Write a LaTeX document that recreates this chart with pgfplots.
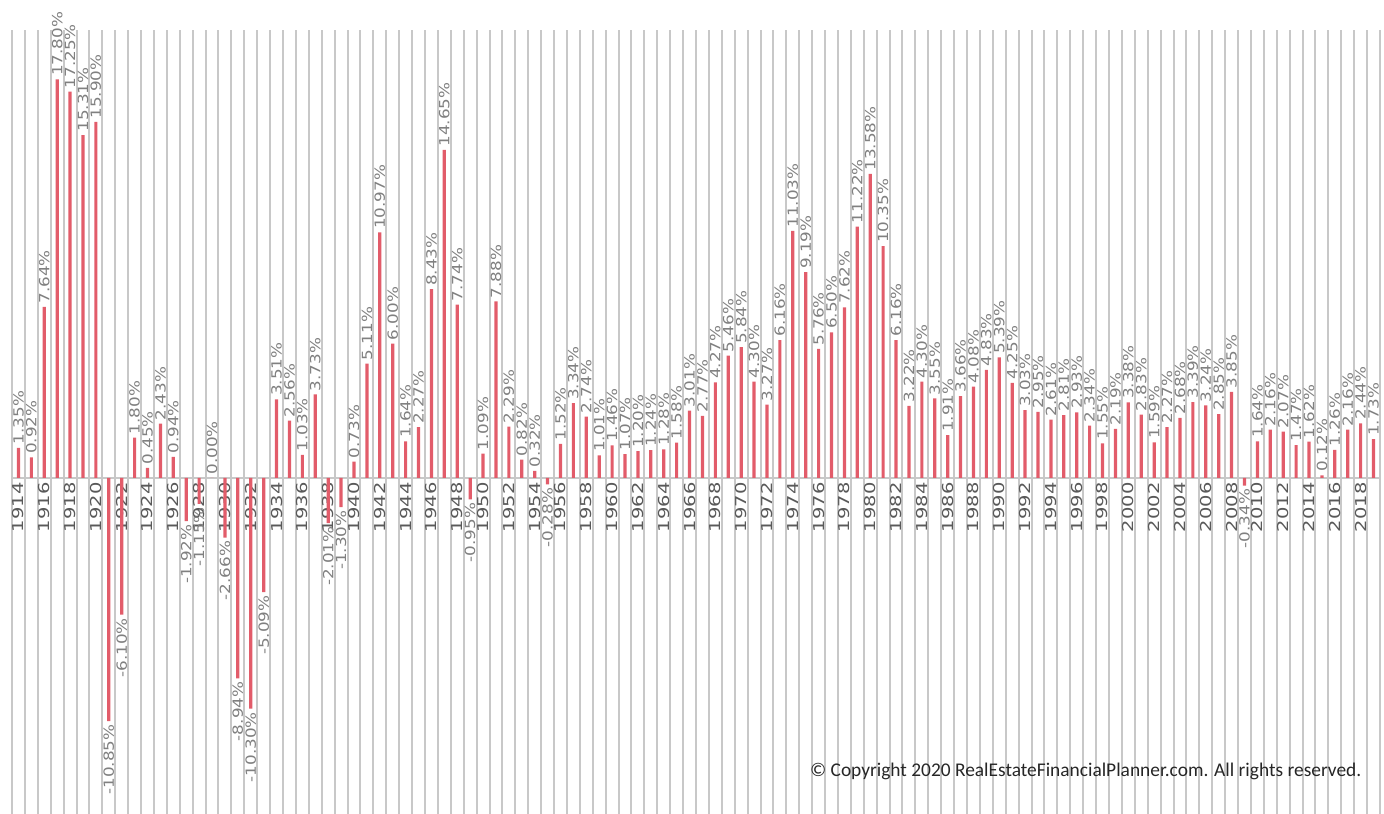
\documentclass[border=0pt]{standalone}
\usepackage{pgfplots}
\pgfplotsset{compat=1.18}
\usepackage{pgfplotstable}
\usepackage{fontspec}
\setmainfont{DejaVu Sans}
\newfontfamily\yearfont[FakeStretch=1.3]{DejaVu Sans}
\newfontfamily\valfont[FakeStretch=1.2]{DejaVu Sans}
\newfontfamily\copyfont{Carlito}
\definecolor{barred}{RGB}{226,92,106}
\definecolor{gridgray}{RGB}{200,200,200}
\definecolor{yeargray}{RGB}{89,89,89}
\definecolor{valgray}{RGB}{128,128,128}

% annual inflation, 1914-2019
\pgfplotstableread{
year val
1914 1.35
1915 0.92
1916 7.64
1917 17.80
1918 17.25
1919 15.31
1920 15.90
1921 -10.85
1922 -6.10
1923 1.80
1924 0.45
1925 2.43
1926 0.94
1927 -1.92
1928 -1.15
1929 0.00
1930 -2.66
1931 -8.94
1932 -10.30
1933 -5.09
1934 3.51
1935 2.56
1936 1.03
1937 3.73
1938 -2.01
1939 -1.30
1940 0.73
1941 5.11
1942 10.97
1943 6.00
1944 1.64
1945 2.27
1946 8.43
1947 14.65
1948 7.74
1949 -0.95
1950 1.09
1951 7.88
1952 2.29
1953 0.82
1954 0.32
1955 -0.28
1956 1.52
1957 3.34
1958 2.74
1959 1.01
1960 1.46
1961 1.07
1962 1.20
1963 1.24
1964 1.28
1965 1.58
1966 3.01
1967 2.77
1968 4.27
1969 5.46
1970 5.84
1971 4.30
1972 3.27
1973 6.16
1974 11.03
1975 9.19
1976 5.76
1977 6.50
1978 7.62
1979 11.22
1980 13.58
1981 10.35
1982 6.16
1983 3.22
1984 4.30
1985 3.55
1986 1.91
1987 3.66
1988 4.08
1989 4.83
1990 5.39
1991 4.25
1992 3.03
1993 2.95
1994 2.61
1995 2.81
1996 2.93
1997 2.34
1998 1.55
1999 2.19
2000 3.38
2001 2.83
2002 1.59
2003 2.27
2004 2.68
2005 3.39
2006 3.24
2007 2.85
2008 3.85
2009 -0.34
2010 1.64
2011 2.16
2012 2.07
2013 1.47
2014 1.62
2015 0.12
2016 1.26
2017 2.16
2018 2.44
2019 1.73
}\cpi

\begin{document}
\begin{tikzpicture}
\begin{axis}[
  name=ax,
  width=684pt, height=392pt, scale only axis,
  xmin=-0.5, xmax=105.5, ymin=-15, ymax=20,
  axis x line*=middle, axis y line=none,
  axis line style={gridgray, line width=1pt},
  xtick={0,2,...,104},
  xticklabels={1914,1916,1918,1920,1922,1924,1926,1928,1930,1932,1934,1936,1938,
    1940,1942,1944,1946,1948,1950,1952,1954,1956,1958,1960,1962,1964,1966,1968,
    1970,1972,1974,1976,1978,1980,1982,1984,1986,1988,1990,1992,1994,1996,1998,
    2000,2002,2004,2006,2008,2010,2012,2014,2016,2018},
  minor xtick={-0.5,0.5,...,105.5},
  xminorgrids, minor grid style={gridgray, line width=1pt},
  major tick length=0pt, minor tick length=0pt,
  x tick label style={rotate=90, anchor=east, inner sep=2pt,
    font=\yearfont\fontsize{7.5}{9}\selectfont, text=yeargray},
  ytick=\empty,
  clip=false,
  ybar, bar width=1.6pt,
  point meta=explicit symbolic,
  nodes near coords={\pgfplotspointmeta\%},
  visualization depends on={rawy \as \rawy},
  every node near coord/.append style={rotate=90, inner sep=1.5pt,
    font=\valfont\fontsize{7}{8}\selectfont, text=valgray,
    /utils/exec={\ifdim\rawy pt<0pt \def\myanc{east}\else\def\myanc{west}\fi},
    anchor=\myanc},
]
\addplot[fill=barred, draw=none] table[x expr=\coordindex, y=val, meta=val] {\cpi};
\node[anchor=east, font=\copyfont\fontsize{9.7}{11.5}\selectfont, text=black!85]
  at (axis cs:104.6,-13.1) {© Copyright 2020 RealEstateFinancialPlanner.com. All rights reserved.};
\end{axis}
\pgfresetboundingbox
\useasboundingbox ([xshift=-6pt]ax.south west) rectangle ([xshift=2pt,yshift=15pt]ax.north east);
\end{tikzpicture}
\end{document}
